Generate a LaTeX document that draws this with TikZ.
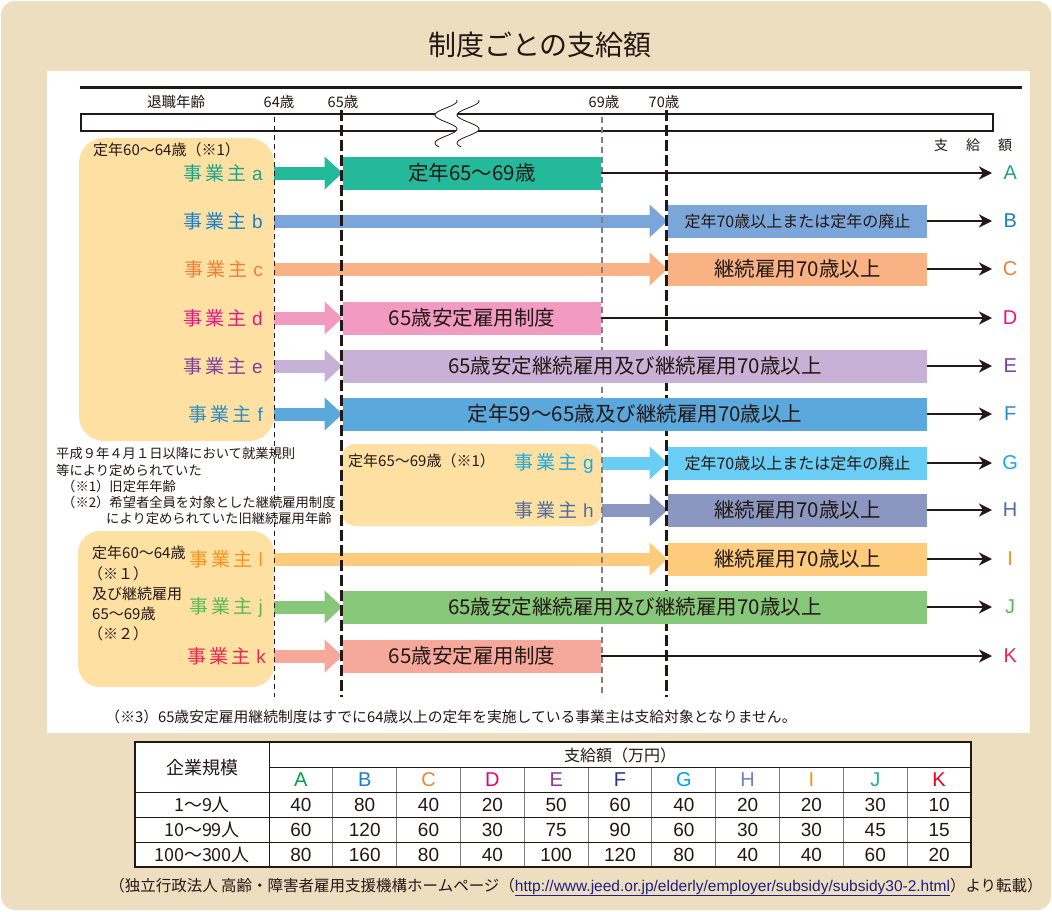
\documentclass[tikz,border=0pt]{standalone}
\usepackage{fontspec}
\setmainfont{Noto Sans CJK JP}
\newfontfamily\lat{Liberation Sans}
\usetikzlibrary{arrows.meta}
\definecolor{bg}{HTML}{EEDEC0}
\definecolor{peach}{HTML}{FEE0A3}
\definecolor{ink}{HTML}{231815}
\definecolor{urlblue}{HTML}{1D2088}
\definecolor{bA}{HTML}{24B99B}\definecolor{lA}{HTML}{1EA386}
\definecolor{bB}{HTML}{7BA6D9}\definecolor{lB}{HTML}{1D7EC3}
\definecolor{bC}{HTML}{F8B283}\definecolor{lC}{HTML}{F07F35}
\definecolor{bD}{HTML}{F29AC1}\definecolor{lD}{HTML}{E4197F}
\definecolor{bE}{HTML}{C7B1D6}\definecolor{lE}{HTML}{7E3F98}
\definecolor{bF}{HTML}{5AA8DC}\definecolor{lF}{HTML}{2A8CC8}
\definecolor{bG}{HTML}{6ACDF3}\definecolor{lG}{HTML}{17AAE4}
\definecolor{bH}{HTML}{8B97C1}\definecolor{lH}{HTML}{4E6CA8}
\definecolor{bI}{HTML}{FDCB7B}\definecolor{lI}{HTML}{F6921E}
\definecolor{bJ}{HTML}{86C779}\definecolor{lJ}{HTML}{5DB75A}
\definecolor{bK}{HTML}{F6A89B}\definecolor{lK}{HTML}{E8284E}
\definecolor{tA}{HTML}{00A050}\definecolor{tB}{HTML}{1E7EC7}
\definecolor{tC}{HTML}{F08336}\definecolor{tD}{HTML}{E5007F}
\definecolor{tE}{HTML}{8E3C97}\definecolor{tF}{HTML}{2E3092}
\definecolor{tG}{HTML}{00A0E9}\definecolor{tH}{HTML}{6F84BE}
\definecolor{tI}{HTML}{F39800}\definecolor{tJ}{HTML}{22AC87}
\definecolor{tK}{HTML}{E60014}
\newcommand\EmpL[1]{事\hspace{3pt}業\hspace{3pt}主\hspace{6pt}{\lat #1}}
\begin{document}
\begin{tikzpicture}[x=1pt,y=-1pt,
  fs/.style={font=\fontsize{#1}{#1}\selectfont, text=ink, inner sep=0pt},
  bx/.style={rectangle, inner sep=0pt, minimum height=33pt, anchor=west, text=ink, font=\fontsize{20.5}{20.5}\selectfont},
  sbx/.style={bx, font=\fontsize{16}{16}\selectfont},
  fatarr/.style={line width=13pt, -{Triangle[length=18pt,width=32pt]}},
  thinarr/.style={line width=2.5pt, draw=ink, shorten >=8pt, -{Stealth[length=13pt,width=13pt,inset=4pt]}},
  emp/.style={anchor=east, inner sep=0pt, font=\fontsize{19}{19}\selectfont},
  res/.style={anchor=west, inner sep=0pt, text width=20pt, align=center, font=\lat\fontsize{20}{20}\selectfont},
  grp/.style={fill=peach},
  note/.style={anchor=west, inner sep=0pt, text=ink, font=\fontsize{13.3}{13.3}\selectfont},
  gnote/.style={note, font=\fontsize{15}{15}\selectfont},
  tnum/.style={inner sep=0pt, text=ink, font=\lat\fontsize{19}{19}\selectfont},
]
\useasboundingbox (0,0) rectangle (1052,911);
\fill[white] (0,0) rectangle (1052,911);
\fill[bg, rounded corners=14pt] (1,1) rectangle (1051,910);
\node[fs=28] (title) at (540,45) {制度ごとの支給額};
\fill[white] (47,71) rectangle (1030,733);
% top scale
\draw[ink, line width=3pt] (80,87) -- (1022,87);
\node[fs=14.5] (retage) at (176,102) {退職年齢};
\node[fs=14.5] (a64) at (279,102) {64歳};
\node[fs=14.5] (a65) at (343,102) {65歳};
\node[fs=14.5] (a69) at (604,102) {69歳};
\node[fs=14.5] (a70) at (664,102) {70歳};
\draw[ink, line width=2.5pt, fill=white] (81,114) rectangle (993,131);
\fill[white] plot[domain=100:147, samples=40] ({446-11*sin(360*(\x-108)/28)},\x)
  -- plot[domain=147:100, samples=40] ({468-11*sin(360*(\x-108)/28)},\x) -- cycle;
\draw[ink, line width=0.8pt] plot[domain=100:147, samples=40, smooth] ({446-11*sin(360*(\x-108)/28)},\x);
\draw[ink, line width=0.8pt] plot[domain=100:147, samples=40, smooth] ({468-11*sin(360*(\x-108)/28)},\x);
\node[fs=14] (shk) at (973,145) {支\hspace{18pt}給\hspace{18pt}額};
% peach groups
\fill[grp, rounded corners=25pt] (79,138) rectangle (274,441);
\fill[grp, rounded corners=15pt] (341,444) rectangle (602,526);
\fill[grp, rounded corners=22pt] (78,531) rectangle (274,687);
\node[gnote] (g1t) at (93,150) {定年60～64歳（※1）};
\node[gnote] (g2t) at (348,461) {定年65～69歳（※1）};
\node[gnote] (g3a) at (92,553) {定年60～64歳};
\node[gnote] (g3b) at (88,574) {（※１）};
\node[gnote] (g3c) at (92,594) {及び継続雇用};
\node[gnote] (g3d) at (92,614) {65～69歳};
\node[gnote] (g3e) at (88,634) {（※２）};
% notes
\node[note] (n1) at (56,453) {平成９年４月１日以降において就業規則};
\node[note] (n2) at (56,470) {等により定められていた};
\node[note] (n3) at (62,486) {（※1）旧定年年齢};
\node[note] (n4) at (62,502) {（※2）希望者全員を対象とした継続雇用制度};
\node[note] (n5) at (106,518) {により定められていた旧継続雇用年齢};
% employer labels
\node[emp, text=lA] (ea) at (263,173) {\EmpL{a}};
\node[emp, text=lB] (eb) at (263,221) {\EmpL{b}};
\node[emp, text=lC] (ec) at (263,269) {\EmpL{c}};
\node[emp, text=lD] (ed) at (263,318) {\EmpL{d}};
\node[emp, text=lE] (ee) at (263,366) {\EmpL{e}};
\node[emp, text=lF] (ef) at (263,414) {\EmpL{f}};
\node[emp, text=lG] (eg) at (594,463) {\EmpL{g}};
\node[emp, text=lH] (eh) at (594,510) {\EmpL{h}};
\node[emp, text=lI] (ei) at (263,559) {\EmpL{l}};
\node[emp, text=lJ] (ej) at (263,607) {\EmpL{j}};
\node[emp, text=lK] (ek) at (266,656) {\EmpL{k}};
% start points of the fat arrows
\coordinate (sa) at (274,173);
\coordinate (sb) at (274,221);
\coordinate (sc) at (274,269);
\coordinate (sd) at (274,318);
\coordinate (se) at (274,366);
\coordinate (sf) at (274,414);
\coordinate (sg) at (602,463);
\coordinate (sh) at (602,510);
\coordinate (si) at (274,559);
\coordinate (sj) at (274,607);
\coordinate (sk) at (274,656);
% box outlines (named targets)
\node[bx, fill=bA, minimum width=258.5pt] (Ba) at (342.5,173) {};
\node[sbx, fill=bB, minimum width=259.5pt] (Bb) at (667.5,221) {};
\node[bx, fill=bC, minimum width=259.5pt] (Bc) at (667.5,269) {};
\node[bx, fill=bD, minimum width=258.5pt] (Bd) at (342.5,318) {};
\node[bx, fill=bE, minimum width=584.5pt] (Be) at (342.5,366) {};
\node[bx, fill=bF, minimum width=584.5pt] (Bf) at (342.5,414) {};
\node[sbx, fill=bG, minimum width=259.5pt] (Bg) at (667.5,463) {};
\node[bx, fill=bH, minimum width=259.5pt] (Bh) at (667.5,510) {};
\node[bx, fill=bI, minimum width=259.5pt] (Bi) at (667.5,559) {};
\node[bx, fill=bJ, minimum width=584.5pt] (Bj) at (342.5,607) {};
\node[bx, fill=bK, minimum width=258.5pt] (Bk) at (342.5,656) {};
% fat arrows
\draw[fatarr, bA] (sa) -- (Ba.west);
\draw[fatarr, bB] (sb) -- (Bb.west);
\draw[fatarr, bC] (sc) -- (Bc.west);
\draw[fatarr, bD] (sd) -- (Bd.west);
\draw[fatarr, bE] (se) -- (Be.west);
\draw[fatarr, bF] (sf) -- (Bf.west);
\draw[fatarr, bG] (sg) -- (Bg.west);
\draw[fatarr, bH] (sh) -- (Bh.west);
\draw[fatarr, bI] (si) -- (Bi.west);
\draw[fatarr, bJ] (sj) -- (Bj.west);
\draw[fatarr, bK] (sk) -- (Bk.west);
% dashed age lines (over the arrows, under the boxes)
\draw[ink, line width=1pt, dash pattern=on 5pt off 4pt] (274,117) -- (274,697);
\draw[ink, line width=3pt, dash pattern=on 11pt off 4pt] (341,110) -- (341,697);
\draw[gray, line width=1.2pt, dash pattern=on 6pt off 4pt] (602,117) -- (602,697);
\draw[ink, line width=3pt, dash pattern=on 11pt off 4pt] (666,110) -- (666,697);
% boxes with their texts, on top of the dashed lines
\node[bx, fill=bA, minimum width=258.5pt] (Ta) at (342.5,173) {定年65～69歳};
\node[sbx, fill=bB, minimum width=259.5pt] (Tb) at (667.5,221) {定年70歳以上または定年の廃止};
\node[bx, fill=bC, minimum width=259.5pt] (Tc) at (667.5,269) {継続雇用70歳以上};
\node[bx, fill=bD, minimum width=258.5pt] (Td) at (342.5,318) {65歳安定雇用制度};
\node[bx, fill=bE, minimum width=584.5pt] (Te) at (342.5,366) {65歳安定継続雇用及び継続雇用70歳以上};
\node[bx, fill=bF, minimum width=584.5pt] (Tf) at (342.5,414) {定年59～65歳及び継続雇用70歳以上};
\node[sbx, fill=bG, minimum width=259.5pt] (Tg) at (667.5,463) {定年70歳以上または定年の廃止};
\node[bx, fill=bH, minimum width=259.5pt] (Th) at (667.5,510) {継続雇用70歳以上};
\node[bx, fill=bI, minimum width=259.5pt] (Ti) at (667.5,559) {継続雇用70歳以上};
\node[bx, fill=bJ, minimum width=584.5pt] (Tj) at (342.5,607) {65歳安定継続雇用及び継続雇用70歳以上};
\node[bx, fill=bK, minimum width=258.5pt] (Tk) at (342.5,656) {65歳安定雇用制度};
% results
\node[res, text=lA] (RA) at (1000,173) {A};
\node[res, text=lB] (RB) at (1000,221) {B};
\node[res, text=lC] (RC) at (1000,269) {C};
\node[res, text=lD] (RD) at (1000,318) {D};
\node[res, text=lE] (RE) at (1000,366) {E};
\node[res, text=lF] (RF) at (1000,414) {F};
\node[res, text=lG] (RG) at (1000,463) {G};
\node[res, text=lH] (RH) at (1000,510) {H};
\node[res, text=lI] (RI) at (1000,559) {I};
\node[res, text=lJ] (RJ) at (1000,607) {J};
\node[res, text=lK] (RK) at (1000,656) {K};
\draw[thinarr] (Ta.east) -- (RA.west);
\draw[thinarr] (Tb.east) -- (RB.west);
\draw[thinarr] (Tc.east) -- (RC.west);
\draw[thinarr] (Td.east) -- (RD.west);
\draw[thinarr] (Te.east) -- (RE.west);
\draw[thinarr] (Tf.east) -- (RF.west);
\draw[thinarr] (Tg.east) -- (RG.west);
\draw[thinarr] (Th.east) -- (RH.west);
\draw[thinarr] (Ti.east) -- (RI.west);
\draw[thinarr] (Tj.east) -- (RJ.west);
\draw[thinarr] (Tk.east) -- (RK.west);
% footnote 3
\node[fs=14.8] (fn3) at (451,717) {（※3）65歳安定雇用継続制度はすでに64歳以上の定年を実施している事業主は支給対象となりません。};
% table
\fill[white] (135,742) rectangle (971,867);
\foreach \i in {1,...,10}{
  \draw[gray, line width=1pt] ({269+63.82*\i},767) -- ({269+63.82*\i},867);
}
\draw[ink, line width=1pt] (269,767) -- (971,767);
\draw[ink, line width=1pt] (135,792) -- (971,792);
\draw[ink, line width=1pt] (135,817) -- (971,817);
\draw[ink, line width=1pt] (135,842) -- (971,842);
\draw[ink, line width=1pt] (269,742) -- (269,867);
\draw[ink, line width=1.3pt] (135,742) rectangle (971,867);
\node[fs=18] (kgk) at (202,768) {企業規模};
\node[fs=16] (sgk) at (620,755) {支給額（万円）};
\foreach \L/\col [count=\c] in {A/tA,B/tB,C/tC,D/tD,E/tE,F/tF,G/tG,H/tH,I/tI,J/tJ,K/tK}{
  \node[tnum, text=\col, font=\lat\fontsize{20}{20}\selectfont] (h\L) at ({269+63.82*(\c-0.5)},780) {\L};
}
\node[fs=18] (r1) at (202,805) {1～9人};
\node[fs=18] (r2) at (202,830) {10～99人};
\node[fs=18] (r3) at (202,855) {100～300人};
\def\rowA{40,80,40,20,50,60,40,20,20,30,10}
\def\rowB{60,120,60,30,75,90,60,30,30,45,15}
\def\rowC{80,160,80,40,100,120,80,40,40,60,20}
\foreach \v [count=\c] in \rowA { \node[tnum] (v1-\c) at ({269+63.82*(\c-0.5)},805) {\v}; }
\foreach \v [count=\c] in \rowB { \node[tnum] (v2-\c) at ({269+63.82*(\c-0.5)},830) {\v}; }
\foreach \v [count=\c] in \rowC { \node[tnum] (v3-\c) at ({269+63.82*(\c-0.5)},855) {\v}; }
% source
\node[fs=15.5] (src) at (576,887) {（独立行政法人 高齢・障害者雇用支援機構ホームページ（{\lat\color{urlblue}\underline{http://www.jeed.or.jp/elderly/employer/subsidy/subsidy30-2.html}}）より転載）};
\end{tikzpicture}
\end{document}
